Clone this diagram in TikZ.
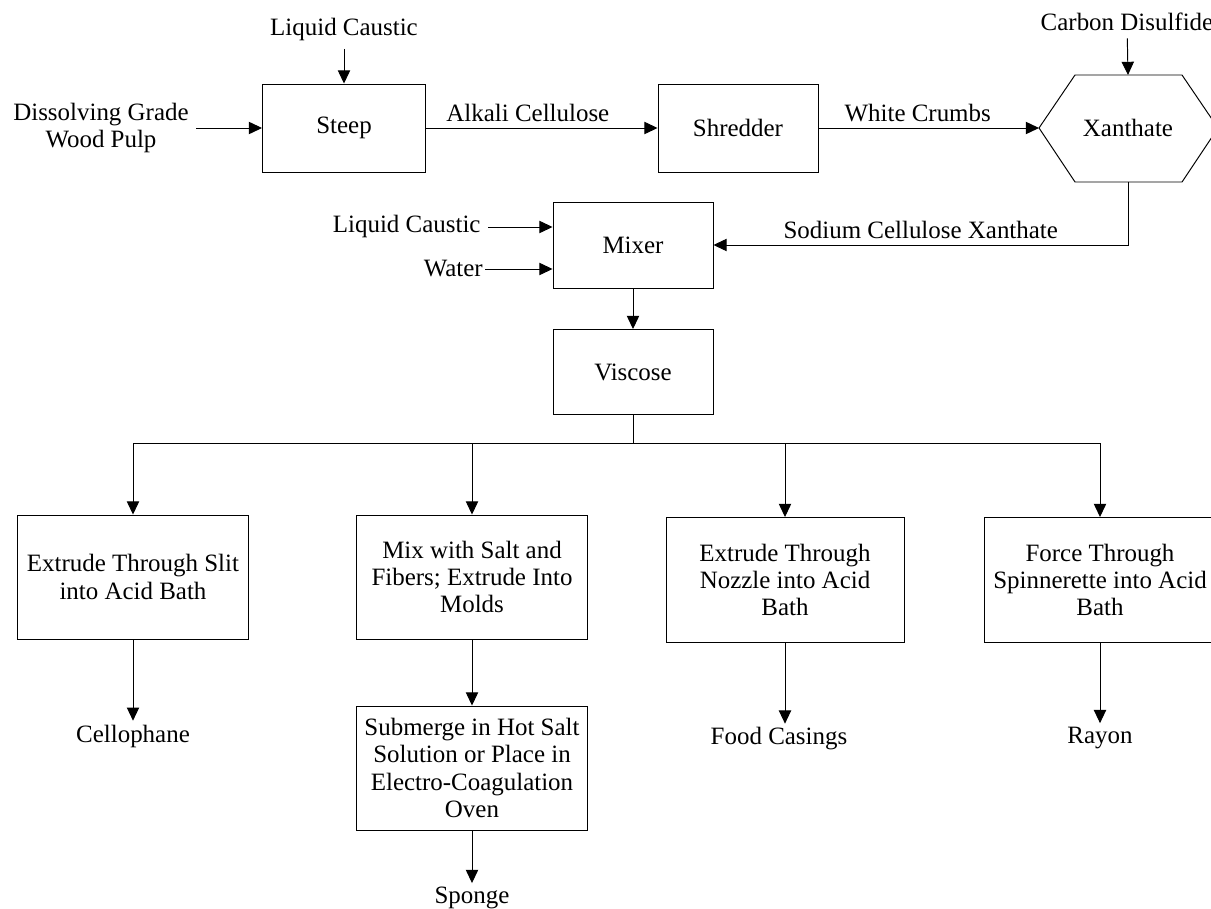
\documentclass[tikz,border=0pt]{standalone}
\usepackage{fontspec}
\setmainfont{Liberation Serif}
\usetikzlibrary{arrows.meta}

\begin{document}
\begin{tikzpicture}[x=0.02cm,y=-0.02cm,line width=0.55pt,font=\fontsize{14.2}{15.5}\selectfont]
\tikzset{unit/.style = {shape=rectangle,draw,minimum width=3.2cm,minimum height=1.72cm}}
\tikzset{box/.style = {shape=rectangle,draw,align=center,minimum width=4.64cm,minimum height=2.48cm,inner sep=2pt}}
\tikzset{stream/.style = {align=center,inner sep=4pt}}
\tikzset{flow/.style = {->,> = {Triangle[length=7.5pt,width=7pt]}}}
\useasboundingbox (0,0) rectangle (1211,909);
% top line
\node[stream] (pulp) at (101,128) {Dissolving Grade\\Wood Pulp};
\node[stream] (caus1) at (344,30) {Liquid Caustic};
\node[unit,minimum width=3.26cm,minimum height=1.76cm] (steep) at (344,128) {Steep};
\node[unit,minimum height=1.76cm] (shred) at (738,128) {Shredder};
\node[stream] (cs2) at (1127,22) {Carbon Disulfide};
\node (xan) at (1128,128) {Xanthate};
\coordinate (xanL) at (1039,128);
\coordinate (xanR) at (1218,128);
\coordinate (xanT) at (1128,75);
\coordinate (xanB) at (1128,182);
\draw (xanL) -- (1075,75) -- (1182,75) -- (xanR) -- (1182,182) -- (1075,182) -- cycle;
\draw[flow] (pulp) -- (steep);
\draw[flow] (caus1) -- (steep);
\draw[flow] (steep) -- node[above,pos=0.44] {Alkali Cellulose} (shred);
\draw[flow] (shred) -- node[above,pos=0.45] {White Crumbs} (xanL);
\draw[flow] (cs2) -- (xanT);
% mixer
\node[unit] (mixer) at (633,245) {Mixer};
\node[stream,anchor=east] (caus2) at (488,227) {Liquid Caustic};
\node[stream,anchor=east,inner sep=1pt] (water) at (485,269) {Water};
\node[unit,minimum height=1.7cm] (visc) at (633,372) {Viscose};
\draw[flow] (caus2) -- (caus2 -| mixer.west);
\draw[flow] (water) -- (water -| mixer.west);
\draw[flow] (xanB) |- node[above,pos=0.75] {Sodium Cellulose Xanthate} (mixer);
\draw[flow] (mixer) -- (visc);
% products
\coordinate (split) at (633,443);
\node[box] (slit) at (133,577) {Extrude Through Slit\\into Acid Bath};
\node[box] (mold) at (472,577) {Mix with Salt and\\Fibers; Extrude Into\\Molds};
\node[box,minimum width=4.76cm,minimum height=2.5cm] (nozzle) at (785,580) {Extrude Through\\Nozzle into Acid\\Bath};
\node[box,minimum height=2.5cm] (spin) at (1100,580) {Force Through\\Spinnerette into Acid\\Bath};
\node[box] (oven) at (472,768) {Submerge in Hot Salt\\Solution or Place in\\Electro-Coagulation\\Oven};
\node[stream,inner sep=2pt] (cello) at (133,736) {Cellophane};
\node[stream,inner sep=2pt] (sponge) at (472,898) {Sponge};
\node[stream,inner sep=2pt] (food) at (779,739) {Food Casings};
\node[stream,inner sep=2pt] (rayon) at (1100,738) {Rayon};
\draw (visc) -- (split);
\draw[flow] (split) -| (slit);
\draw[flow] (split) -| (mold);
\draw[flow] (split) -| (nozzle);
\draw[flow] (split) -| (spin);
\draw[flow] (slit) -- (cello);
\draw[flow] (mold) -- (oven);
\draw[flow] (oven) -- (sponge);
\draw[flow] (nozzle.south) -- (nozzle.south |- food.north);
\draw[flow] (spin) -- (rayon);
\end{tikzpicture}
\end{document}
